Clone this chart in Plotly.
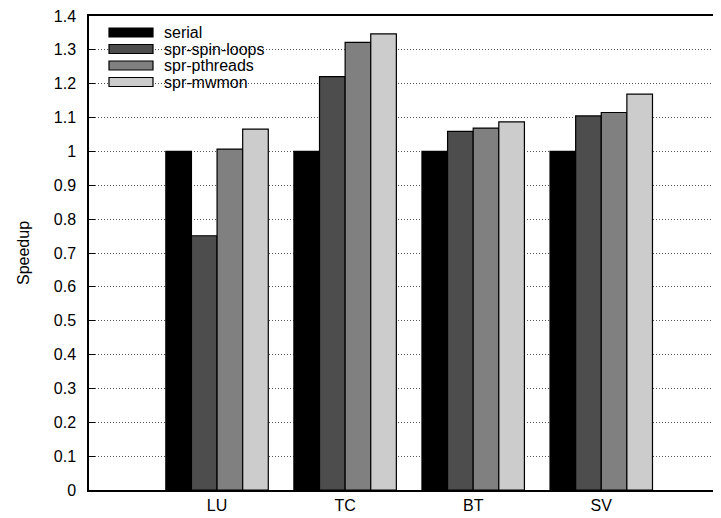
import plotly.graph_objects as go

categories = ["LU", "TC", "BT", "SV"]
series_names = ["serial", "spr-spin-loops", "spr-pthreads", "spr-mwmon"]
serial = [1.0, 1.0, 1.0, 1.0]
spin_loops = [0.751, 1.221, 1.059, 1.105]
pthreads = [1.007, 1.322, 1.069, 1.115]
mwmon = [1.066, 1.347, 1.087, 1.169]
series_values = [serial, spin_loops, pthreads, mwmon]
colors = ["#000000", "#4d4d4d", "#808080", "#cccccc"]
y_ticks = [round(i * 0.1, 1) for i in range(15)]
y_ticktext = ["0", "0.1", "0.2", "0.3", "0.4", "0.5", "0.6", "0.7", "0.8", "0.9",
              "1", "1.1", "1.2", "1.3", "1.4"]

FONT = "Liberation Sans, Arial, Helvetica, sans-serif"
FS = 16

fig = go.Figure()
for name, vals, col in zip(series_names, series_values, colors):
    fig.add_trace(go.Bar(
        x=categories, y=vals, name=name,
        marker=dict(color=col, line=dict(color="#000000", width=1.2)),
        showlegend=False,
    ))

# manual legend (compact spacing like the original)
for i, (name, col) in enumerate(zip(series_names, colors)):
    cy = 16.5 + 16.5 * i  # pixel offset from top of plot area to entry centre
    fig.add_shape(
        type="rect", xref="paper", yref="paper",
        xsizemode="pixel", ysizemode="pixel", xanchor=0, yanchor=1,
        x0=20, x1=64, y0=-(cy - 4.5), y1=-(cy + 4.5),
        fillcolor=col, line=dict(color="#000000", width=1.2),
    )
    fig.add_annotation(
        xref="paper", yref="paper", x=0, y=1, xshift=73, yshift=-cy,
        xanchor="left", yanchor="middle", text=name, showarrow=False,
        font=dict(family=FONT, size=FS, color="#000000"),
    )

# page body has an 8px default margin, so the figure is sized to fit the window
fig.update_layout(
    width=713, height=510,
    margin=dict(l=81, r=0, t=8, b=28, autoexpand=False),
    paper_bgcolor="#ffffff", plot_bgcolor="#ffffff",
    barmode="group", bargap=0.2, bargroupgap=0,
    font=dict(family=FONT, size=FS, color="#000000"),
    xaxis=dict(
        type="category", range=[-1, 3.935], automargin=False,
        showline=True, linecolor="#000000", linewidth=1.5, mirror=True,
        ticks="", showgrid=False, zeroline=False,
        tickfont=dict(family=FONT, size=FS),
    ),
    yaxis=dict(
        range=[0, 1.4], tickvals=y_ticks, ticktext=y_ticktext, automargin=False,
        showline=True, linecolor="#000000", linewidth=1.5, mirror=False,
        ticks="inside", ticklen=6, tickcolor="#000000", tickwidth=1,
        showgrid=True, gridcolor="#555555", griddash="1px,2px", gridwidth=1,
        zeroline=False, ticklabelstandoff=8, ticklabeloverflow="allow",
        title=dict(text="Speedup", standoff=20, font=dict(family=FONT, size=FS)),
        tickfont=dict(family=FONT, size=FS),
    ),
)

fig.write_html("out.html")
